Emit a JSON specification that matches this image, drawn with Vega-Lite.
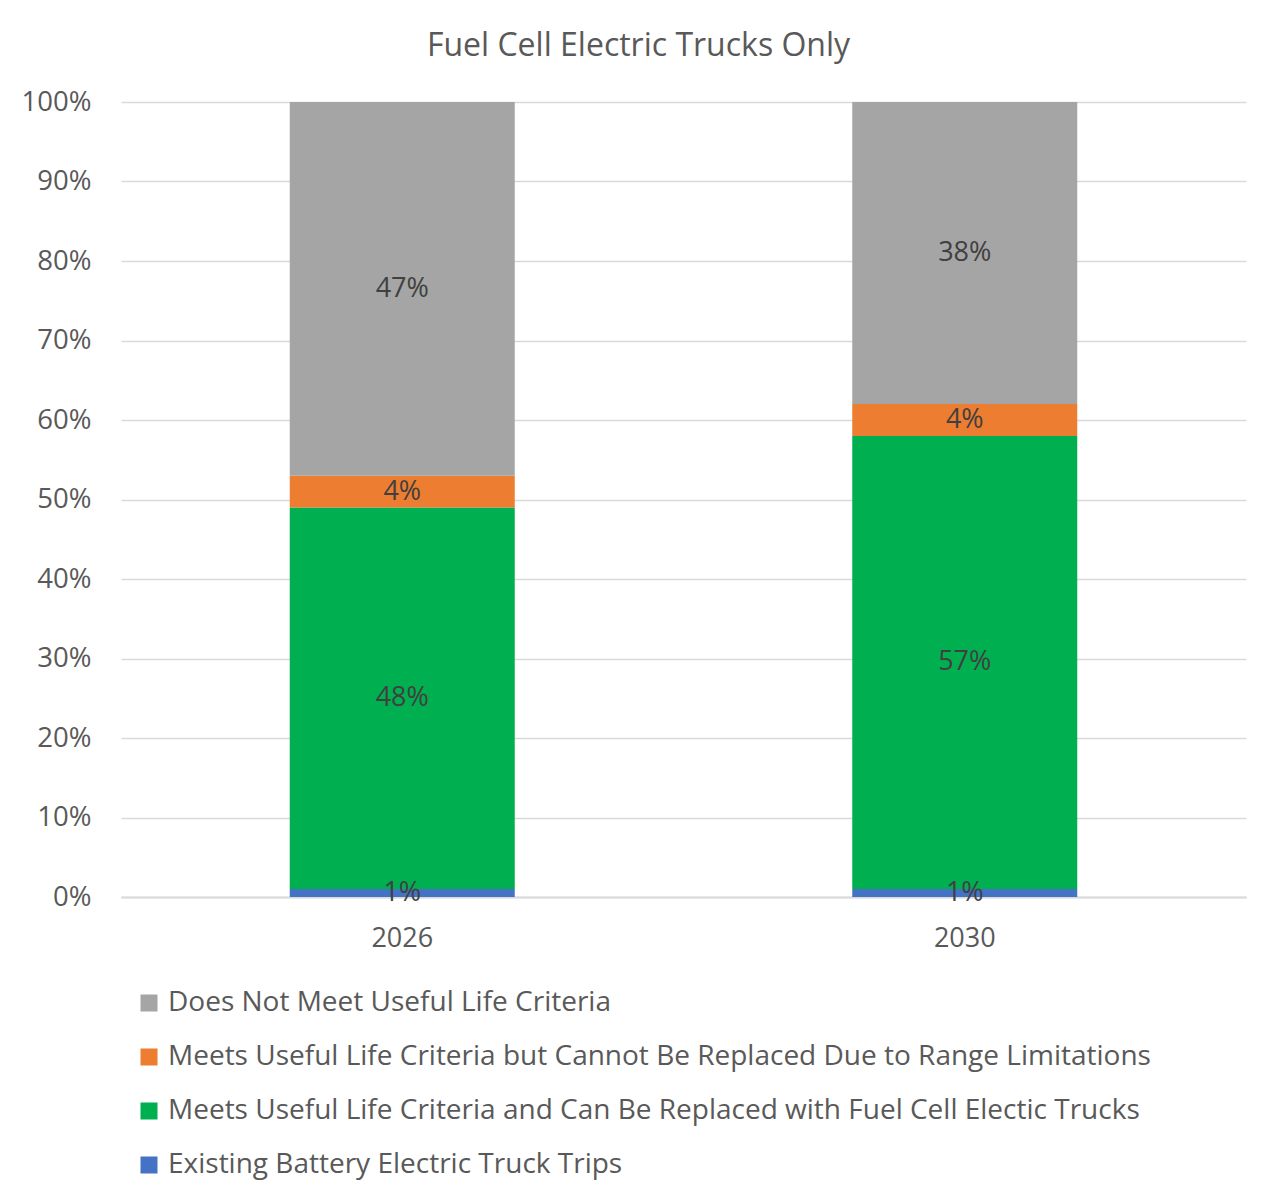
{
  "$schema": "https://vega.github.io/schema/vega-lite/v6.json",
  "width": 1125,
  "height": 795,
  "autosize": {"type": "none"},
  "padding": {"left": 121, "top": 102, "right": 30, "bottom": 307},
  "background": "white",
  "title": {
    "text": "Fuel Cell Electric Trucks Only",
    "fontSize": 32,
    "font": "Open Sans",
    "fontWeight": "normal",
    "color": "#595959",
    "anchor": "middle",
    "dx": -45,
    "offset": 25
  },
  "data": {
    "values": [
      {"year": "2026", "category": "Existing Battery Electric Truck Trips", "value": 0.01, "ord": 1},
      {"year": "2026", "category": "Meets Useful Life Criteria and Can Be Replaced with Fuel Cell Electic Trucks", "value": 0.48, "ord": 2},
      {"year": "2026", "category": "Meets Useful Life Criteria but Cannot Be Replaced Due to Range Limitations", "value": 0.04, "ord": 3},
      {"year": "2026", "category": "Does Not Meet Useful Life Criteria", "value": 0.47, "ord": 4},
      {"year": "2030", "category": "Existing Battery Electric Truck Trips", "value": 0.01, "ord": 1},
      {"year": "2030", "category": "Meets Useful Life Criteria and Can Be Replaced with Fuel Cell Electic Trucks", "value": 0.57, "ord": 2},
      {"year": "2030", "category": "Meets Useful Life Criteria but Cannot Be Replaced Due to Range Limitations", "value": 0.04, "ord": 3},
      {"year": "2030", "category": "Does Not Meet Useful Life Criteria", "value": 0.38, "ord": 4}
    ]
  },
  "encoding": {
    "x": {
      "field": "year",
      "type": "nominal",
      "title": null,
      "scale": {"paddingInner": 0.6, "paddingOuter": 0.3},
      "axis": {
        "labelAngle": 0,
        "labelFontSize": 27,
        "labelFont": "Open Sans",
        "labelColor": "#595959",
        "labelPadding": 28,
        "ticks": false,
        "domainColor": "#d9d9d9",
        "domainWidth": 2
      }
    },
    "y": {
      "field": "value",
      "type": "quantitative",
      "stack": "zero",
      "title": null,
      "scale": {"domain": [0, 1]},
      "axis": {
        "format": ".0%",
        "values": [0, 0.1, 0.2, 0.3, 0.4, 0.5, 0.6, 0.7, 0.8, 0.9, 1],
        "labelFontSize": 27.5,
        "labelFont": "Open Sans",
        "labelColor": "#595959",
        "labelPadding": 30,
        "ticks": false,
        "domain": false,
        "gridColor": "#d9d9d9",
        "gridWidth": 1.5
      }
    },
    "order": {"field": "ord", "type": "quantitative"}
  },
  "layer": [
    {
      "mark": {"type": "bar"},
      "encoding": {
        "color": {
          "field": "category",
          "type": "nominal",
          "scale": {
            "domain": [
              "Does Not Meet Useful Life Criteria",
              "Meets Useful Life Criteria but Cannot Be Replaced Due to Range Limitations",
              "Meets Useful Life Criteria and Can Be Replaced with Fuel Cell Electic Trucks",
              "Existing Battery Electric Truck Trips"
            ],
            "range": ["#a5a5a5", "#ed7d31", "#00b050", "#4472c4"]
          },
          "legend": {
            "title": null,
            "orient": "none",
            "legendX": 14,
            "legendY": 887,
            "direction": "vertical",
            "symbolType": "square",
            "symbolSize": 289,
            "symbolStrokeWidth": 0,
            "labelFontSize": 28,
            "labelFont": "Open Sans",
            "labelColor": "#595959",
            "labelLimit": 1200,
            "rowPadding": 26,
            "labelOffset": 5
          }
        }
      }
    },
    {
      "mark": {"type": "text", "font": "Open Sans", "fontSize": 27, "color": "#404040"},
      "encoding": {
        "y": {"field": "value", "type": "quantitative", "stack": "zero", "bandPosition": 0.5},
        "text": {"field": "value", "type": "quantitative", "format": ".0%"}
      }
    }
  ],
  "config": {
    "view": {"stroke": null}
  }
}
